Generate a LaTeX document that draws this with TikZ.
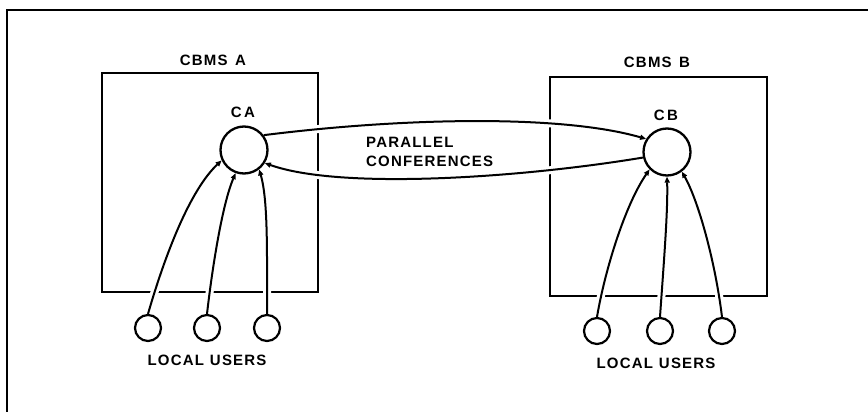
\documentclass[tikz,border=0pt]{standalone}
\usepackage{fontspec}
\setmainfont{Liberation Sans}[LetterSpace=8]
\usetikzlibrary{arrows.meta}
\begin{document}
\begin{tikzpicture}[x=1pt,y=-1pt,
  lbl/.style={font=\fontsize{15}{18}\selectfont\bfseries, inner sep=0pt},
  boxline/.style={line width=2.6pt},
  bigc/.style={circle, draw, line width=2.3pt, fill=white, minimum size=47pt, inner sep=0pt},
  userc/.style={circle, draw, line width=2.2pt, fill=white, minimum size=26pt, inner sep=0pt},
  conn/.style={line width=2pt, -{Triangle[length=6pt,width=5pt]},
    preaction={draw=white, line width=8pt, arrows=-, shorten <=5pt, shorten >=5pt}}]
\useasboundingbox (0,0) rectangle (868,412);
% outer frame
\coordinate (f1) at (7,412);
\coordinate (f2) at (7,10);
\coordinate (f3) at (868,10);
\draw[line width=2.6pt] (f1) -- (f2) -- (f3);
% boxes
\node[draw, boxline, minimum width=216pt, minimum height=219pt, inner sep=0pt] (boxA) at (210,182.5) {};
\node[draw, boxline, minimum width=217pt, minimum height=219pt, inner sep=0pt] (boxB) at (658.5,186.5) {};
\node[lbl] (tA) at (213,60) {CBMS\hspace{0.5em}A};
\node[lbl] (tB) at (657,62) {CBMS\hspace{0.5em}B};
% central circles
\node[bigc] (ca) at (244,150) {};
\node[bigc] (cb) at (667,152) {};
\node[lbl] (lca) at (243,112) {C\,A};
\node[lbl] (lcb) at (666,115) {C\,B};
% users
\node[userc] (ua1) at (148,328) {};
\node[userc] (ua2) at (207,328) {};
\node[userc] (ua3) at (267,328) {};
\node[userc] (ub1) at (597,331) {};
\node[userc] (ub2) at (660,331) {};
\node[userc] (ub3) at (722,331) {};
\node[lbl] (luA) at (207,360) {LOCAL\hspace{0.4em}USERS};
\node[lbl] (luB) at (656,363) {LOCAL\hspace{0.4em}USERS};
% conference arrows
\draw[conn] (ca.37) .. controls (400,118) and (560,114) .. (cb.148);
\draw[conn] (cb.193) .. controls (520,178) and (340,190) .. (ca.-32);
\node[lbl, align=left, anchor=west] (pc) at (366,152) {PARALLEL\\[1pt]CONFERENCES};
% user arrows A
\draw[conn] (ua1.north) .. controls (165,255) and (190,190) .. (ca.205);
\draw[conn] (ua2.north) .. controls (212,270) and (222,205) .. (ca.250);
\draw[conn] (ua3.north) .. controls (267,250) and (268,200) .. (ca.-52);
% user arrows B
\draw[conn] (ub1.north) .. controls (605,270) and (625,205) .. (cb.225);
\draw[conn] (ub2.north) .. controls (664,260) and (668,210) .. (cb.270);
\draw[conn] (ub3.north) .. controls (715,260) and (698,200) .. (cb.-53);
\end{tikzpicture}
\end{document}
